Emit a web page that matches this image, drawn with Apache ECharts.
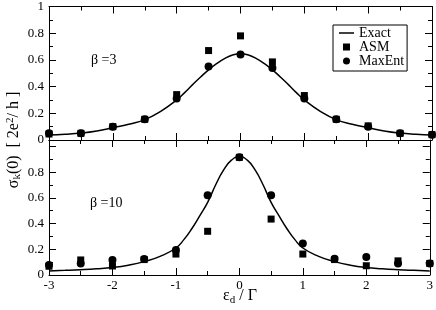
<!DOCTYPE html>
<html>
<head>
<meta charset="utf-8">
<script src="https://cdn.jsdelivr.net/npm/echarts@6/dist/echarts.min.js"></script>
<style>html,body{margin:0;padding:0;background:#fff;}#c{width:436px;height:310px;}</style>
</head>
<body>
<div id="c"></div>
<script>
// ---- data ----
var pointX = [-3, -2.5, -2, -1.5, -1, -0.5, 0, 0.5, 1, 1.5, 2, 2.5, 3];
var asmBeta3 =    [0.045, 0.05, 0.10, 0.155, 0.34, 0.67, 0.78, 0.585, 0.333, 0.155, 0.106, 0.05, 0.04];
var maxEntBeta3 = [0.05, 0.05, 0.10, 0.155, 0.31, 0.55, 0.64, 0.54, 0.31, 0.155, 0.10, 0.05, 0.04];
var asmBeta10 =    [0.068, 0.117, 0.07, 0.12, 0.163, 0.34, 0.915, 0.435, 0.163, 0.12, 0.072, 0.11, 0.09];
var maxEntBeta10 = [0.078, 0.09, 0.117, 0.125, 0.195, 0.62, 0.915, 0.62, 0.245, 0.127, 0.14, 0.09, 0.09];
var exactX = [-3, -2.75, -2.5, -2.25, -2, -1.75, -1.5, -1.25, -1, -0.875, -0.75, -0.625, -0.5, -0.375, -0.25, -0.125, 0,
              0.125, 0.25, 0.375, 0.5, 0.625, 0.75, 0.875, 1, 1.25, 1.5, 1.75, 2, 2.25, 2.5, 2.75, 3];
var exactBeta3 = [0.037, 0.043, 0.052, 0.068, 0.092, 0.118, 0.153, 0.215, 0.30, 0.355, 0.415, 0.472, 0.525, 0.572, 0.61, 0.637, 0.647,
                  0.637, 0.61, 0.572, 0.525, 0.472, 0.415, 0.355, 0.30, 0.215, 0.153, 0.118, 0.092, 0.068, 0.052, 0.043, 0.037];
var exactBeta10 = [0.032, 0.036, 0.041, 0.048, 0.058, 0.076, 0.104, 0.145, 0.21, 0.275, 0.36, 0.46, 0.565, 0.70, 0.815, 0.893, 0.92,
                   0.893, 0.815, 0.70, 0.565, 0.46, 0.36, 0.275, 0.21, 0.145, 0.104, 0.076, 0.058, 0.048, 0.041, 0.036, 0.032];
var xTicks = [-3, -2, -1, 0, 1, 2, 3];
var yTicks = [0, 0.2, 0.4, 0.6, 0.8, 1];

function pairs(xs, ys) { return xs.map(function (x, i) { return [x, ys[i]]; }); }

var FONT = 'Liberation Serif';
var black = '#000';

function xAxis(grid, pos, showLabel) {
  return {
    type: 'value', gridIndex: grid, position: pos, min: -3, max: 3, interval: 1,
    axisLine: { show: true, onZero: false, lineStyle: { color: black, width: 1 } },
    axisTick: { show: true, inside: true, length: 7, lineStyle: { color: black } },
    minorTick: { show: true, splitNumber: 2, length: 4, lineStyle: { color: black } },
    splitLine: { show: false },
    axisLabel: { show: showLabel, color: black, fontFamily: FONT, fontSize: 13, margin: 4,
      formatter: function (v) { return xTicks.indexOf(v) >= 0 ? String(v) : ''; } }
  };
}
function yAxis(grid, pos, max, showLabel) {
  return {
    type: 'value', gridIndex: grid, position: pos, min: 0, max: max, interval: 0.2,
    axisLine: { show: true, onZero: false, lineStyle: { color: black, width: 1 } },
    axisTick: { show: true, inside: true, length: 7, lineStyle: { color: black } },
    minorTick: { show: true, splitNumber: 2, length: 4, lineStyle: { color: black } },
    splitLine: { show: false },
    axisLabel: { show: showLabel, color: black, fontFamily: FONT, fontSize: 13, margin: 5,
      formatter: function (v) {
        var r = Math.round(v * 10) / 10;
        if (grid === 1 && v > 0.9) return '';
        return yTicks.indexOf(r) >= 0 ? String(r) : '';
      } }
  };
}

var dotStyle = { color: black, opacity: 1 };
var chart = echarts.init(document.getElementById('c'), null, { renderer: 'canvas' });
chart.setOption({
  animation: false,
  backgroundColor: '#fff',
  grid: [
    { left: 49, right: 4, top: 5, height: 135 },
    { left: 49, right: 4, top: 140, height: 135 }
  ],
  xAxis: [xAxis(0, 'bottom', false), xAxis(0, 'top', false), xAxis(1, 'top', false), xAxis(1, 'bottom', true)],
  yAxis: [yAxis(0, 'left', 1, true), yAxis(0, 'right', 1, false), yAxis(1, 'left', 1.05, true), yAxis(1, 'right', 1.05, false)],
  legend: {
    data: [
      { name: 'Exact', icon: 'path://M0,0L20,0L20,2L0,2Z' },
      { name: 'ASM', icon: 'path://M0,0L10,0L10,10L0,10Z' },
      { name: 'MaxEnt', icon: 'circle' }
    ],
    orient: 'vertical', left: 333, top: 25,
    borderColor: black, borderWidth: 1, borderRadius: 0, padding: [1, 3, 3, 6],
    itemWidth: 15, itemHeight: 7, itemGap: 0, symbolKeepAspect: true,
    itemStyle: { color: black, opacity: 1, borderWidth: 0 },
    textStyle: { fontFamily: FONT, fontSize: 14, color: black, lineHeight: 13 },
    backgroundColor: '#fff'
  },
  series: [
    { name: 'Exact', type: 'line', xAxisIndex: 0, yAxisIndex: 0, data: pairs(exactX, exactBeta3), symbol: 'none', smooth: true,
      lineStyle: { color: black, width: 1.5 }, itemStyle: dotStyle, z: 3 },
    { name: 'ASM', type: 'scatter', xAxisIndex: 0, yAxisIndex: 0, data: pairs(pointX, asmBeta3), symbol: 'rect', symbolSize: 7,
      itemStyle: dotStyle, z: 4 },
    { name: 'MaxEnt', type: 'scatter', xAxisIndex: 0, yAxisIndex: 0, data: pairs(pointX, maxEntBeta3), symbol: 'circle', symbolSize: 8,
      itemStyle: dotStyle, z: 4 },
    { name: 'Exact', type: 'line', xAxisIndex: 3, yAxisIndex: 2, data: pairs(exactX, exactBeta10), symbol: 'none', smooth: true,
      lineStyle: { color: black, width: 1.5 }, itemStyle: dotStyle, z: 3 },
    { name: 'ASM', type: 'scatter', xAxisIndex: 3, yAxisIndex: 2, data: pairs(pointX, asmBeta10), symbol: 'rect', symbolSize: 7,
      itemStyle: dotStyle, z: 4 },
    { name: 'MaxEnt', type: 'scatter', xAxisIndex: 3, yAxisIndex: 2, data: pairs(pointX, maxEntBeta10), symbol: 'circle', symbolSize: 8,
      itemStyle: dotStyle, z: 4 }
  ],
  graphic: [
    { type: 'text', left: 91, top: 53, style: { text: 'β =3', font: '14px "Liberation Serif"', fill: black } },
    { type: 'text', left: 90, top: 196, style: { text: 'β =10', font: '14px "Liberation Serif"', fill: black } },
    { type: 'text', x: 14, y: 140, rotation: Math.PI / 2,
      style: {
        text: '{a|σ}{sub|k}{a|(0)  [ 2e}{sup|2}{a|/ h ]}',
        align: 'center', verticalAlign: 'middle',
        rich: {
          a: { fontFamily: FONT, fontSize: 16, fill: black },
          sub: { fontFamily: FONT, fontSize: 11, fill: black, padding: [6, 0, 0, 0] },
          sup: { fontFamily: FONT, fontSize: 11, fill: black, padding: [0, 0, 8, 0] }
        }
      } },
    { type: 'text', x: 240, y: 296,
      style: {
        text: '{a|ε}{sub|d}{a| / Γ}',
        align: 'center', verticalAlign: 'middle',
        rich: {
          a: { fontFamily: FONT, fontSize: 16, fill: black },
          sub: { fontFamily: FONT, fontSize: 11, fill: black, padding: [8, 0, 0, 0] }
        }
      } }
  ]
});
</script>
</body>
</html>
